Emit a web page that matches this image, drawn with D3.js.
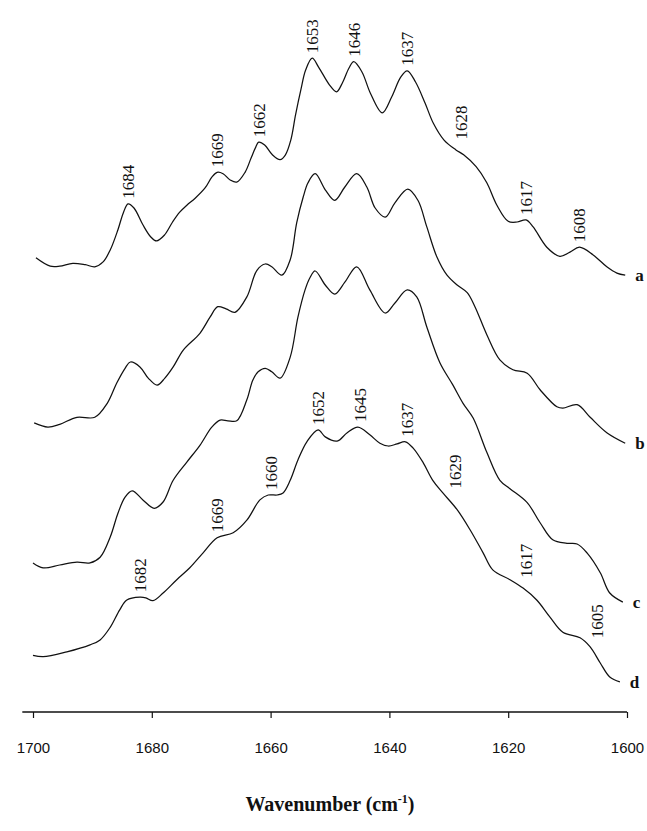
<!DOCTYPE html>
<html>
<head>
<meta charset="utf-8">
<script src="https://cdn.jsdelivr.net/npm/d3@7/dist/d3.min.js"></script>
<style>
  html, body { margin: 0; padding: 0; background: #fff; }
  svg { display: block; }
</style>
</head>
<body>
<svg id="chart" width="647" height="831"></svg>
<script>
// Amide I region FTIR spectra, stacked (a.u.), wavenumber in cm-1
const wavenumberTicks = [1700, 1680, 1660, 1640, 1620, 1600];
const seriesNames = ["a", "b", "c", "d"];

const spectrumA = [
  [1699.5,0.649],[1697.1,0.637],[1695.5,0.637],[1693.3,0.641],[1691.2,0.639],[1689.6,0.636],
  [1688.2,0.643],[1687.0,0.660],[1685.7,0.689],[1684.8,0.713],[1684.0,0.726],[1683.0,0.720],
  [1681.5,0.696],[1680.2,0.679],[1679.2,0.673],[1677.9,0.681],[1676.5,0.700],[1675.3,0.714],
  [1674.1,0.724],[1672.7,0.734],[1671.0,0.749],[1669.9,0.764],[1669.0,0.771],[1668.0,0.769],
  [1666.8,0.760],[1665.7,0.757],[1664.3,0.771],[1663.3,0.791],[1662.5,0.807],[1662.0,0.814],
  [1661.0,0.810],[1659.7,0.796],[1658.4,0.789],[1657.5,0.796],[1656.6,0.817],[1655.8,0.853],
  [1654.9,0.889],[1654.1,0.917],[1653.0,0.934],[1651.9,0.921],[1650.1,0.896],[1648.9,0.886],
  [1647.9,0.899],[1646.8,0.920],[1646.0,0.929],[1644.6,0.914],[1643.2,0.884],[1641.2,0.856],
  [1639.6,0.879],[1638.1,0.907],[1637.0,0.916],[1635.6,0.900],[1634.0,0.870],[1632.6,0.841],
  [1630.8,0.817],[1628.8,0.803],[1627.5,0.796],[1625.4,0.779],[1623.6,0.756],[1621.9,0.724],
  [1620.0,0.701],[1618.5,0.700],[1617.0,0.703],[1615.8,0.693],[1613.5,0.664],[1611.3,0.651],
  [1609.6,0.657],[1608.0,0.664],[1605.7,0.653],[1603.4,0.636],[1601.7,0.627],[1600.3,0.624]
];

const spectrumB = [
  [1699.8,0.413],[1697.5,0.407],[1695.5,0.411],[1692.6,0.421],[1689.6,0.421],[1687.5,0.441],
  [1685.9,0.470],[1684.5,0.491],[1683.6,0.500],[1682.0,0.493],[1680.6,0.477],[1679.1,0.467],
  [1677.8,0.477],[1676.4,0.493],[1674.7,0.517],[1671.9,0.541],[1670.2,0.564],[1668.9,0.579],
  [1667.5,0.576],[1666.0,0.571],[1664.0,0.593],[1662.3,0.631],[1660.9,0.640],[1659.8,0.636],
  [1658.1,0.624],[1656.7,0.646],[1655.6,0.699],[1654.5,0.736],[1653.7,0.756],[1652.5,0.769],
  [1650.8,0.746],[1649.2,0.731],[1647.5,0.750],[1645.5,0.769],[1643.8,0.750],[1642.4,0.720],
  [1640.7,0.707],[1639.1,0.727],[1636.9,0.747],[1635.2,0.731],[1633.7,0.693],[1632.0,0.650],
  [1630.3,0.624],[1628.6,0.610],[1626.9,0.599],[1625.6,0.579],[1623.6,0.539],[1621.4,0.503],
  [1619.2,0.489],[1616.8,0.484],[1614.6,0.460],[1611.8,0.436],[1610.8,0.434],[1608.4,0.439],
  [1606.2,0.421],[1603.4,0.399],[1600.3,0.384]
];

const spectrumC = [
  [1700.0,0.213],[1698.3,0.206],[1695.5,0.210],[1692.6,0.214],[1690.4,0.213],[1688.7,0.221],
  [1687.0,0.250],[1685.7,0.284],[1684.5,0.307],[1683.3,0.316],[1681.5,0.303],[1679.6,0.291],
  [1678.1,0.300],[1676.4,0.331],[1674.1,0.357],[1671.9,0.381],[1669.9,0.407],[1668.5,0.417],
  [1667.2,0.416],[1665.7,0.416],[1664.0,0.446],[1663.0,0.474],[1662.1,0.486],[1660.9,0.491],
  [1659.8,0.486],[1658.4,0.477],[1656.7,0.507],[1655.4,0.564],[1654.2,0.603],[1653.4,0.620],
  [1652.5,0.630],[1650.8,0.610],[1649.2,0.597],[1647.5,0.614],[1645.5,0.636],[1643.3,0.603],
  [1640.7,0.570],[1639.1,0.584],[1637.0,0.603],[1635.4,0.593],[1633.7,0.550],[1631.5,0.499],
  [1629.3,0.467],[1627.6,0.441],[1625.9,0.420],[1623.6,0.371],[1621.4,0.331],[1619.7,0.319],
  [1616.8,0.299],[1614.6,0.270],[1612.5,0.246],[1610.1,0.241],[1608.4,0.240],[1606.7,0.227],
  [1604.5,0.199],[1602.9,0.170],[1600.7,0.157]
];

const spectrumD = [
  [1700.0,0.081],[1698.3,0.079],[1694.3,0.086],[1690.4,0.096],[1688.7,0.103],[1687.0,0.121],
  [1685.4,0.146],[1684.2,0.160],[1682.0,0.164],[1681.0,0.163],[1679.8,0.159],[1678.1,0.170],
  [1675.8,0.189],[1673.6,0.206],[1671.4,0.227],[1669.0,0.249],[1666.3,0.256],[1664.0,0.274],
  [1661.8,0.303],[1660.4,0.310],[1658.9,0.310],[1657.9,0.313],[1656.7,0.331],[1655.4,0.360],
  [1653.9,0.386],[1652.0,0.403],[1650.8,0.393],[1648.8,0.387],[1647.1,0.399],[1645.3,0.407],
  [1643.3,0.396],[1641.6,0.384],[1640.2,0.380],[1638.7,0.383],[1637.3,0.386],[1636.0,0.377],
  [1634.3,0.356],[1632.7,0.331],[1631.0,0.313],[1628.6,0.289],[1626.4,0.260],[1624.2,0.227],
  [1622.6,0.203],[1619.7,0.189],[1617.5,0.177],[1615.2,0.160],[1613.0,0.136],[1610.8,0.114],
  [1607.9,0.106],[1606.2,0.093],[1604.5,0.070],[1602.9,0.050],[1601.2,0.043]
];

// Band positions marked on the top and bottom spectra
const peaksA = [1684, 1669, 1662, 1653, 1646, 1637, 1628, 1617, 1608];
const peaksD = [1682, 1669, 1660, 1652, 1645, 1637, 1629, 1617, 1605];

const spectra = [spectrumA, spectrumB, spectrumC, spectrumD];

const svg = d3.select("#chart");

const x = d3.scaleLinear().domain([1700, 1600]).range([33, 627]);
const y = d3.scaleLinear().domain([0, 1]).range([712, 12]);

const line = d3.line()
  .x(d => x(d[0]))
  .y(d => y(d[1]))
  .curve(d3.curveCatmullRom.alpha(0.5));

svg.append("g")
  .selectAll("path")
  .data(spectra)
  .join("path")
  .attr("d", line)
  .attr("fill", "none")
  .attr("stroke", "#111")
  .attr("stroke-width", 1.25);

// linear interpolation of a spectrum at a given wavenumber
function valueAt(series, w) {
  for (let i = 0; i < series.length - 1; i++) {
    const a = series[i], b = series[i + 1];
    if (w <= a[0] && w >= b[0]) {
      const t = (a[0] - w) / (a[0] - b[0]);
      return a[1] + t * (b[1] - a[1]);
    }
  }
  return w > series[0][0] ? series[0][1] : series[series.length - 1][1];
}

// highest point of the curve under the rotated label
function topUnder(series, w) {
  let m = -Infinity;
  for (let k = -0.3; k <= 2.0; k += 0.1) m = Math.max(m, valueAt(series, w + k));
  return m;
}

function peakLabels(series, peaks) {
  svg.append("g")
    .selectAll("text")
    .data(peaks)
    .join("text")
    .attr("transform", w => `translate(${x(w)},${y(topUnder(series, w)) - 5}) rotate(-90)`)
    .attr("dy", "0.35em")
    .attr("text-anchor", "start")
    .attr("font-family", "'Liberation Serif', 'Times New Roman', serif")
    .attr("font-size", 17)
    .attr("fill", "#111")
    .text(d => d);
}
peakLabels(spectrumA, peaksA);
peakLabels(spectrumD, peaksD);

// series letters at the right end of each trace
svg.append("g")
  .selectAll("text")
  .data(spectra)
  .join("text")
  .attr("x", d => x(d[d.length - 1][0]) + 10)
  .attr("y", d => y(d[d.length - 1][1]))
  .attr("dy", "0.35em")
  .attr("font-family", "'Liberation Serif', 'Times New Roman', serif")
  .attr("font-weight", "bold")
  .attr("font-size", 17)
  .attr("fill", "#111")
  .text((d, i) => seriesNames[i]);

// wavenumber axis
const axis = svg.append("g")
  .attr("transform", `translate(0,${y(0)})`)
  .call(d3.axisBottom(x)
    .tickValues(wavenumberTicks)
    .tickFormat(d3.format("d"))
    .tickSizeInner(6)
    .tickSizeOuter(0)
    .tickPadding(24));
axis.select(".domain")
  .attr("d", `M${x(1701.8)},0H${x(1600)}`)
  .attr("stroke", "#111")
  .attr("stroke-width", 1.6);
axis.selectAll(".tick line").attr("stroke", "#111").attr("stroke-width", 1.2);
axis.selectAll(".tick text")
  .attr("font-family", "'Liberation Sans', Arial, sans-serif")
  .attr("font-size", 15)
  .attr("fill", "#111");

const title = svg.append("text")
  .attr("x", (x(1700) + x(1600)) / 2)
  .attr("y", 811)
  .attr("text-anchor", "middle")
  .attr("font-family", "'Liberation Serif', 'Times New Roman', serif")
  .attr("font-weight", "bold")
  .attr("font-size", 20)
  .attr("fill", "#111");
title.append("tspan").text("Wavenumber (cm");
title.append("tspan").attr("font-size", 12).attr("dy", -8).text("-1");
title.append("tspan").attr("dy", 8).text(")");
</script>
</body>
</html>
